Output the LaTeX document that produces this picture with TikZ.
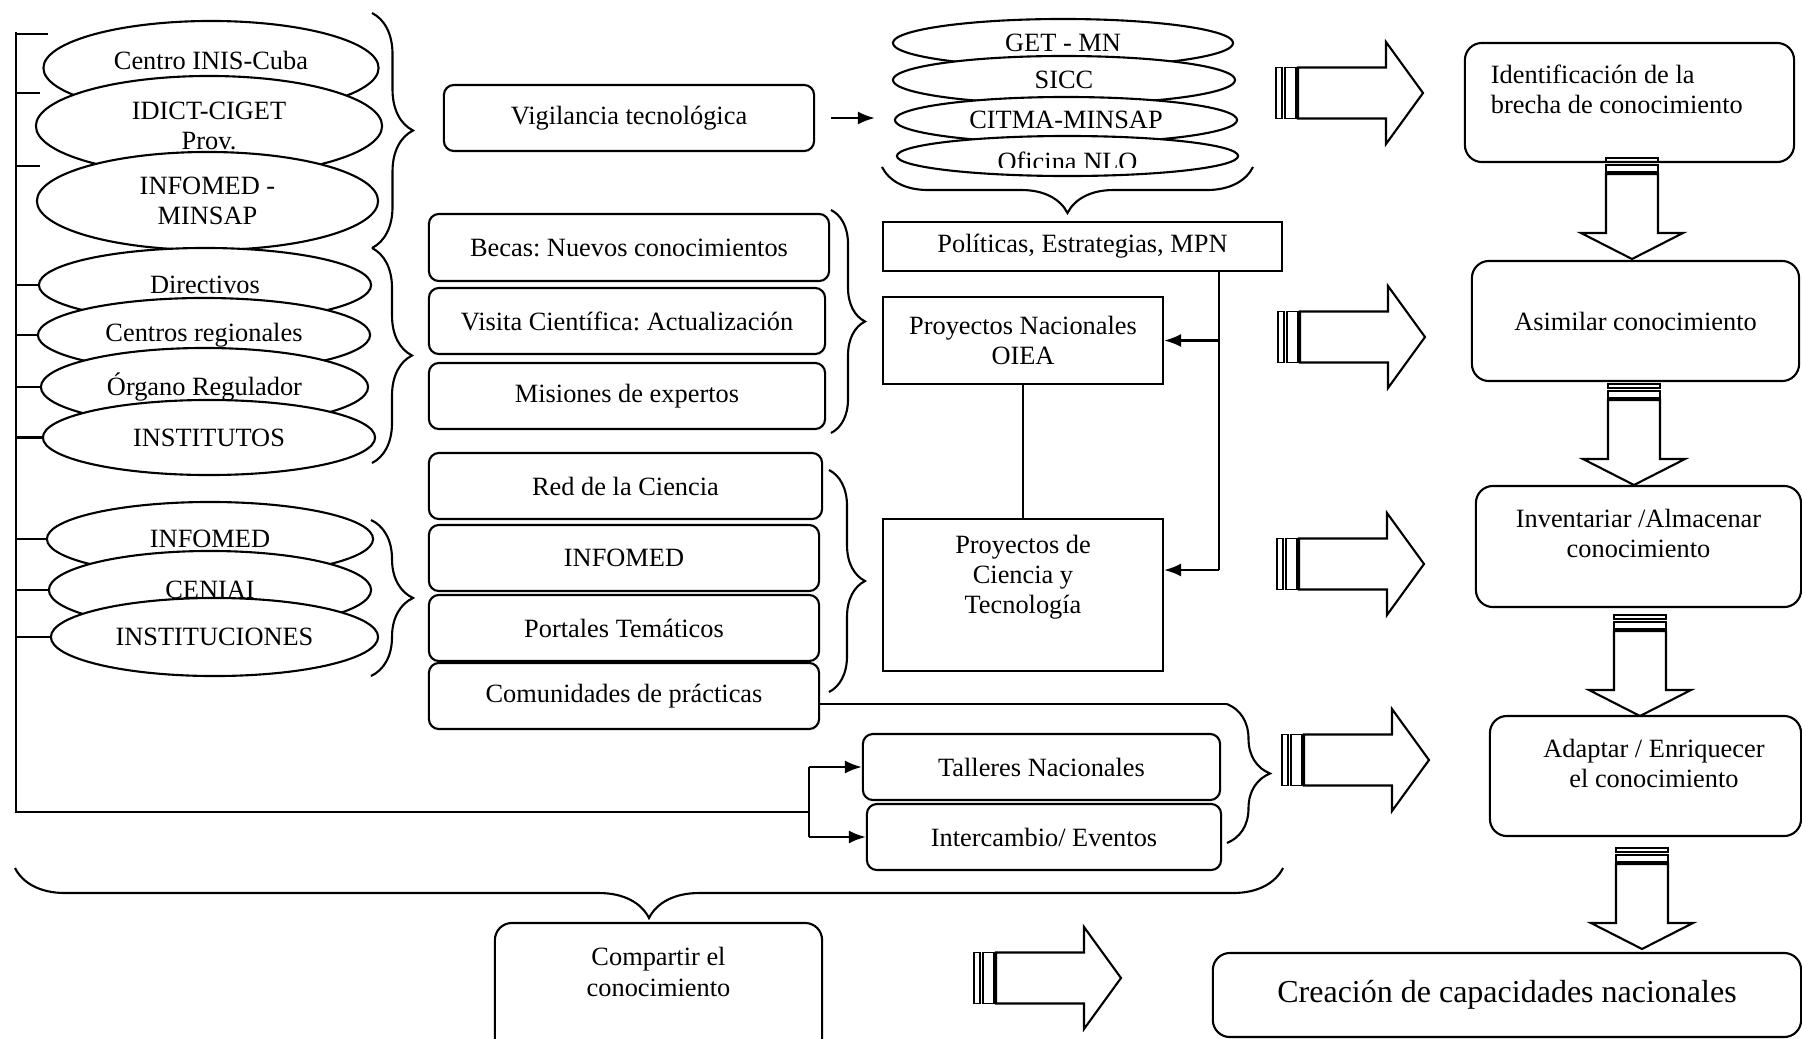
\documentclass[tikz,border=0pt]{standalone}
\usepackage{fontspec}
\setmainfont{Liberation Serif}
\usetikzlibrary{shapes.geometric,arrows.meta,decorations.pathreplacing,calc}
\frenchspacing

\newcommand{\dfont}{\fontsize{7.5}{8.6}\selectfont}

\tikzset{
	ell/.style={ellipse, draw, fill=white, inner sep=0pt, align=center, font=\dfont},
	rbox/.style={draw, fill=white, rounded corners=1mm, inner sep=0pt, align=center, font=\dfont},
	bbox/.style={rbox, rounded corners=1.7mm},
	sbox/.style={draw, inner sep=0pt, align=center, font=\dfont},
	txt/.style={inner sep=0pt, align=center, font=\dfont},
	brc/.style={decorate, decoration={brace, amplitude=#1}},
	rstripe/.pic={
		\draw[line width=0.5pt] (0,-25.5) rectangle (6,25.5);
		\draw[line width=0.5pt] (9,-25.5) rectangle (20,25.5);
		\draw (22,-25.5) -- (110,-25.5) -- (110,-51) -- (147,0) -- (110,51) -- (110,25.5) -- (22,25.5) -- cycle;
	},
	dstripe/.pic={
		\draw[line width=0.5pt] (-26,0) rectangle (26,4);
		\draw[line width=0.5pt] (-26,7) rectangle (26,14);
		\draw (-26,16) -- (-26,75) -- (-51,75) -- (0,101) -- (51,75) -- (26,75) -- (26,16) -- cycle;
	}
}

\begin{document}
\begin{tikzpicture}[x=0.01cm, y=-0.01cm, line width=0.6pt, >={Latex[length=1.7mm,width=1.3mm]}]
	\useasboundingbox (0,0) rectangle (1802,1039);

	% actores
	\node[ell, minimum width=3.35cm, minimum height=0.94cm,
		label={[txt, yshift=0.8mm]center:Centro INIS-Cuba}] (inis) at (211,68) {};
	\node[ell, minimum width=3.46cm, minimum height=1.00cm] (idict) at (209,126) {IDICT-CIGET\\Prov.};
	\node[ell, minimum width=3.41cm, minimum height=0.98cm] (minsap) at (207.5,201) {INFOMED -\\MINSAP};
	\node[ell, minimum width=3.32cm, minimum height=0.74cm] (directivos) at (205,285) {Directivos};
	\node[ell, minimum width=3.32cm, minimum height=0.74cm] (centros) at (204,335) {Centros regionales};
	\node[ell, minimum width=3.27cm, minimum height=0.78cm] (organo) at (204.5,387) {Órgano Regulador};
	\node[ell, minimum width=3.32cm, minimum height=0.75cm] (institutos) at (209,437.5) {INSTITUTOS};
	\node[ell, minimum width=3.26cm, minimum height=0.74cm] (infomed) at (210,539) {INFOMED};
	\node[ell, minimum width=3.22cm, minimum height=0.78cm] (ceniai) at (210,590) {CENIAI};
	\node[ell, minimum width=3.27cm, minimum height=0.78cm] (instituciones) at (214.5,637) {INSTITUCIONES};

	\coordinate (stop) at (16,32);
	\coordinate (fork) at (809,812);
	\draw (stop) -- (stop |- fork) -- (fork);
	\draw (16,34) -- (48,34);
	\draw (16,93) -- (40,93);
	\draw (16,166) -- (40,166);
	\draw (stop |- directivos.west) -- (directivos.west);
	\draw (stop |- centros.west) -- (centros.west);
	\draw (stop |- organo.west) -- (organo.west);
	\draw (stop |- institutos.west) -- (institutos.west);
	\draw (stop |- infomed.west) -- (infomed.west);
	\draw (stop |- ceniai.west) -- (ceniai.west);
	\draw (stop |- instituciones.west) -- (instituciones.west);

	\draw[brc=4.1mm] (372,13) -- (372,248);
	\draw[brc=4.0mm] (372,248) -- (372,463);
	\draw[brc=4.2mm] (371,520) -- (371,676);

	% vigilancia
	\node[ell, minimum width=3.40cm, minimum height=0.48cm] (get) at (1063,43) {GET - MN};
	\node[ell, minimum width=3.42cm, minimum height=0.48cm] (sicc) at (1064,80) {SICC};
	\node[ell, minimum width=3.42cm, minimum height=0.46cm] (citma) at (1066,120) {CITMA-MINSAP};
	\node[ell, minimum width=3.41cm, minimum height=0.40cm] (oficina) at (1067.5,156) {};
	\begin{scope}
		\clip (890,136) rectangle (1245,167);
		\node[txt] (oftxt) at (1067.5,161) {Oficina NLO};
	\end{scope}
	\draw[brc=4.6mm] (1253,167) -- (882,167);

	\node[rbox, minimum width=3.70cm, minimum height=0.66cm] (vig) at (629,118) {Vigilancia tecnológica};
	\draw[->] ($(vig.east)+(16,0)$) -- ($(vig.east -| citma.west)+(-19,0)$);

	% formas de adquirir
	\node[rbox, minimum width=4.00cm, minimum height=0.67cm] (becas) at (629,247.5) {Becas: Nuevos conocimientos};
	\node[rbox, minimum width=3.96cm, minimum height=0.66cm] (visita) at (627,321) {Visita Científica: Actualización};
	\node[rbox, minimum width=3.96cm, minimum height=0.66cm] (misiones) at (627,396) {Misiones de expertos};
	\node[rbox, minimum width=3.93cm, minimum height=0.66cm] (red) at (625.5,486) {Red de la Ciencia};
	\node[rbox, minimum width=3.90cm, minimum height=0.66cm] (infomedb) at (624,558) {INFOMED};
	\node[rbox, minimum width=3.90cm, minimum height=0.66cm] (portales) at (624,628) {Portales Temáticos};
	\node[rbox, minimum width=3.90cm, minimum height=0.66cm] (comunidades) at (624,696) {Comunidades de prácticas};
	\draw[brc=3.4mm] (831,210) -- (831,433);
	\draw[brc=3.6mm] (829,470) -- (829,692);

	% proyectos
	\node[sbox, minimum width=3.99cm, minimum height=0.49cm] (pol) at (1082.5,246.5) {Políticas, Estrategias, MPN};
	\node[sbox, minimum width=2.80cm, minimum height=0.87cm] (oiea) at (1023,340.5) {Proyectos Nacionales\\OIEA};
	\node[sbox, minimum width=2.80cm, minimum height=1.52cm,
		label={[txt, yshift=1.8mm]center:{Proyectos de\\Ciencia y\\Tecnología}}] (ciencia) at (1023,595) {};
	\coordinate (jn) at (1219,570);
	\draw (pol.south -| jn) -- (jn);
	\draw[->] (oiea.east -| jn) -- (oiea.east);
	\draw[->] (jn) -- (jn -| ciencia.east);
	\draw (oiea.south) -- (ciencia.north);

	% talleres
	\node[rbox, minimum width=3.57cm, minimum height=0.66cm] (talleres) at (1041.5,767) {Talleres Nacionales};
	\node[rbox, minimum width=3.54cm, minimum height=0.66cm] (intercambio) at (1044,837) {Intercambio/ Eventos};
	\draw[->] (fork |- talleres.west) -- (talleres.west);
	\draw[->] (fork |- intercambio.west) -- (intercambio.west);
	\draw (fork |- talleres.west) -- (fork |- intercambio.west);
	\coordinate (ctop) at (1227,704);
	\draw (comunidades.east |- ctop) -- (ctop);
	\draw[brc=4.3mm] (ctop) -- (1227,843);

	\draw[brc=5mm] (1283,868) -- (15,868);

	% etapas
	\node[bbox, minimum width=3.29cm, minimum height=1.19cm,
		label={[txt, align=left, anchor=west, xshift=2.6mm, yshift=1.35mm]west:{Identificación de la\\brecha de conocimiento}}] (ident) at (1629.5,102.5) {};
	\node[bbox, minimum width=3.27cm, minimum height=1.20cm] (asim) at (1635.5,321) {Asimilar conocimiento};
	\node[bbox, minimum width=3.25cm, minimum height=1.21cm,
		label={[txt, yshift=1.3mm]center:{Inventariar /Almacenar\\conocimiento}}] (inv) at (1638.5,546.5) {};
	\node[bbox, minimum width=3.11cm, minimum height=1.20cm,
		label={[txt, xshift=0.85mm, yshift=1.25mm]center:{Adaptar / Enriquecer\\el conocimiento}}] (adapt) at (1645.5,776) {};
	\node[bbox, minimum width=3.27cm, minimum height=1.37cm,
		label={[txt, yshift=1.95mm]center:{Compartir el\\conocimiento}}] (compartir) at (658.5,991.5) {};
	\node[bbox, minimum width=5.88cm, minimum height=0.84cm, font=\fontsize{9.1}{11}\selectfont] (crea) at (1507,995) {Creación de capacidades nacionales};

	\pic at (1276,93) {rstripe};
	\pic at (1278,337) {rstripe};
	\pic at (1277,564) {rstripe};
	\pic at (1282,760) {rstripe};
	\pic at (974,978) {rstripe};

	\pic at (1632,158) {dstripe};
	\pic at (1634,384) {dstripe};
	\pic at (1640,615) {dstripe};
	\pic at (1642,848) {dstripe};
\end{tikzpicture}
\end{document}
